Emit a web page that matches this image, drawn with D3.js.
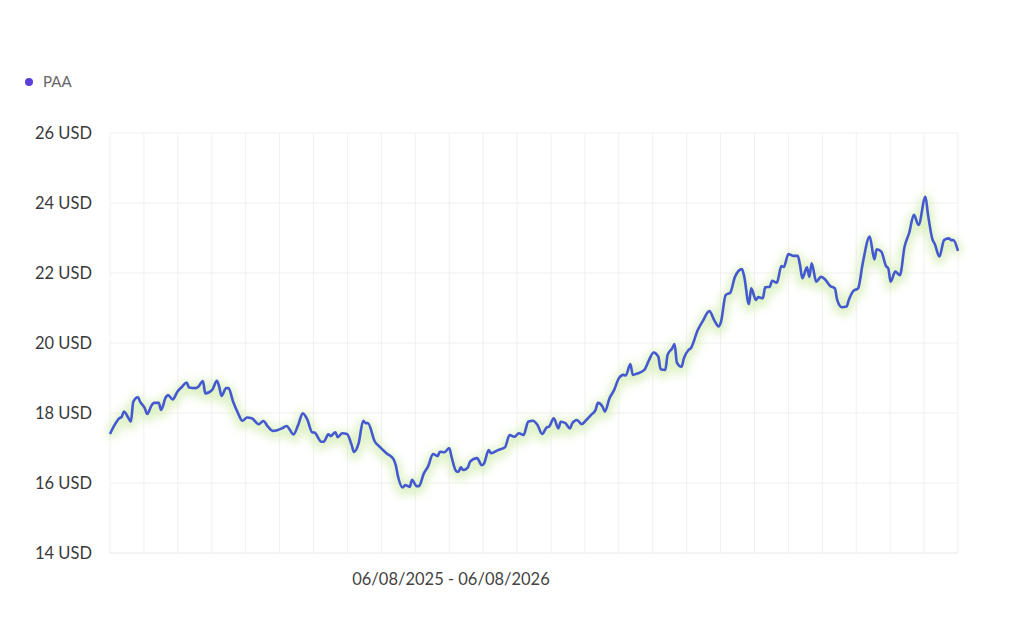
<!DOCTYPE html>
<html>
<head>
<meta charset="utf-8">
<script src="https://cdn.jsdelivr.net/npm/d3@7"></script>
<style>
  body { margin: 0; background: #fff; }
  text { font-family: Lato, "Open Sans", sans-serif; }
</style>
</head>
<body>
<svg id="mainsvg" width="1024" height="619"></svg>
<script>
// series name + period
const seriesName = 'PAA'
const periodLabel = '06/08/2025 - 06/08/2026'
const startDate = new Date(2025, 5, 8)

// day offset from start date, closing price
const days = [0,2,4,5,6,8,9,10,12,13,15,16,18,19,21,22,24,25,27,29,31,33,34,37,38,40,41,44,46,47,48,50,51,53,55,57,59,61,64,66,68,70,72,
  74,76,79,81,83,85,87,88,91,92,94,95,97,98,100,102,104,105,107,109,110,111,114,116,119,122,123,124,126,127,129,130,132,133,135,137,139,141,142,144,146,
  147,149,150,151,152,154,155,158,160,161,163,164,167,170,172,174,176,178,180,182,184,186,188,189,191,193,194,196,198,199,201,203,205,207,209,210,212,213,215,217,219,221,
  222,224,225,227,230,232,234,236,237,239,240,242,243,244,246,247,249,250,253,255,258,260,262,263,265,267,269,272,273,275,276,278,279,281,282,284,285,287,289,
  290,292,294,296,297,298,300,301,302,304,306,308,310,312,313,315,317,318,320,322,324,327,329,330,332,334,335,336,338,340,342,344,346,348,351,352,354,355,357,359,361,362,363,365]
const prices = [17.40,17.66,17.85,17.89,18.04,17.85,17.75,18.32,18.45,18.32,18.13,17.97,18.23,18.29,18.29,18.09,18.45,18.51,18.39,18.61,18.75,18.87,18.73,18.71,18.75,18.91,18.56,18.66,18.92,18.75,18.49,18.71,18.71,18.32,18.01,17.78,17.87,17.85,17.68,17.77,17.61,17.49,17.51,
  17.56,17.63,17.39,17.66,17.99,17.80,17.45,17.44,17.18,17.18,17.39,17.34,17.45,17.31,17.42,17.40,17.09,16.89,17.13,17.78,17.71,17.71,17.18,17.04,16.85,16.68,16.51,16.18,15.87,15.94,15.89,16.09,15.91,15.91,16.26,16.49,16.83,16.77,16.89,16.88,17.00,
  16.75,16.34,16.32,16.45,16.37,16.44,16.61,16.71,16.51,16.56,16.94,16.85,16.94,17.02,17.37,17.32,17.42,17.37,17.75,17.78,17.66,17.40,17.59,17.61,17.85,17.56,17.75,17.71,17.56,17.71,17.80,17.68,17.80,17.94,18.09,18.29,18.18,18.04,18.42,18.66,18.99,19.09,
  19.07,19.40,19.09,19.13,19.23,19.51,19.73,19.61,19.25,19.23,19.66,19.85,19.97,19.44,19.32,19.56,19.80,19.85,20.37,20.61,20.91,20.66,20.47,20.61,21.37,21.44,21.89,22.11,21.89,21.11,21.56,21.23,21.31,21.28,21.59,21.61,21.78,21.72,22.20,
  22.17,22.54,22.49,22.49,22.23,21.85,22.16,21.89,22.28,21.75,21.89,21.80,21.63,21.56,21.23,21.02,21.04,21.23,21.49,21.56,22.28,23.04,22.39,22.68,22.61,22.20,22.13,21.75,22.04,21.94,22.75,23.15,23.66,23.37,24.18,23.71,22.96,22.83,22.47,22.94,22.99,22.94,22.94,22.63]

// y axis ticks
const yTicks = [14,16,18,20,22,24,26]
const gridCols = 25

const margin = {left: 110, top: 133, right: 66, bottom: 66}
const width = 1024 - margin.left - margin.right
const height = 619 - margin.top - margin.bottom

const data = days.map((d,i) => ({date: d3.timeDay.offset(startDate, d), value: prices[i]}))

const svg = d3.select('#mainsvg')

// blur for the green halo
const defs = svg.append('defs')
defs.append('filter').attr('id','blur')
  .attr('x','-5%').attr('y','-30%').attr('width','110%').attr('height','160%')
  .append('feGaussianBlur').attr('stdDeviation',4.5)

const g = svg.append('g').attr('transform',`translate(${margin.left},${margin.top})`)

const x = d3.scaleTime().domain(d3.extent(data, d => d.date)).range([0, width])
const y = d3.scaleLinear().domain([14, 26]).range([height, 0])
const xCol = d3.scaleLinear().domain([0, gridCols]).range([0, width])

// grid
g.append('g').selectAll('line').data(d3.range(gridCols + 1)).join('line')
  .attr('x1', d => xCol(d)).attr('x2', d => xCol(d))
  .attr('y1', 0).attr('y2', height)
  .attr('stroke','#f0f0f0').attr('stroke-width',1)

g.append('g').selectAll('line').data(yTicks).join('line')
  .attr('x1', 0).attr('x2', width)
  .attr('y1', d => y(d)).attr('y2', d => y(d))
  .attr('stroke', d => d === 14 ? '#e8e8e8' : '#f0f0f0').attr('stroke-width',1)

// y labels
const yAxis = g.append('g')
  .call(d3.axisLeft(y).tickValues(yTicks).tickSize(0).tickPadding(18).tickFormat(d => `${d} USD`))
yAxis.select('.domain').remove()
yAxis.selectAll('text')
  .attr('font-size', 16.5).attr('fill', '#3a3a3a').attr('font-family','Lato, sans-serif')

const line = d3.line().x(d => x(d.date)).y(d => y(d.value)).curve(d3.curveMonotoneX)

// halo
g.append('path')
  .datum(data)
  .attr('fill','none')
  .attr('stroke','#d3ecb0')
  .attr('stroke-width',11)
  .attr('stroke-opacity',0.7)
  .attr('stroke-linejoin','round')
  .attr('transform','translate(0,3)')
  .attr('filter','url(#blur)')
  .attr('d', line)

// price line
g.append('path')
  .datum(data)
  .attr('fill','none')
  .attr('stroke','#4459cf')
  .attr('stroke-width',2.6)
  .attr('stroke-linejoin','round')
  .attr('d', line)

// legend
svg.append('circle').attr('cx',29).attr('cy',82).attr('r',4).attr('fill','#5a3fd8')
svg.append('text').attr('x',43).attr('y',82).attr('dy','0.35em')
  .attr('font-size',15).attr('fill','#666').text(seriesName)

// period label
svg.append('text').attr('x',451).attr('y',579).attr('dy','0.35em')
  .attr('text-anchor','middle').attr('font-size',16.5).attr('fill','#444').text(periodLabel)
</script>
</body>
</html>
